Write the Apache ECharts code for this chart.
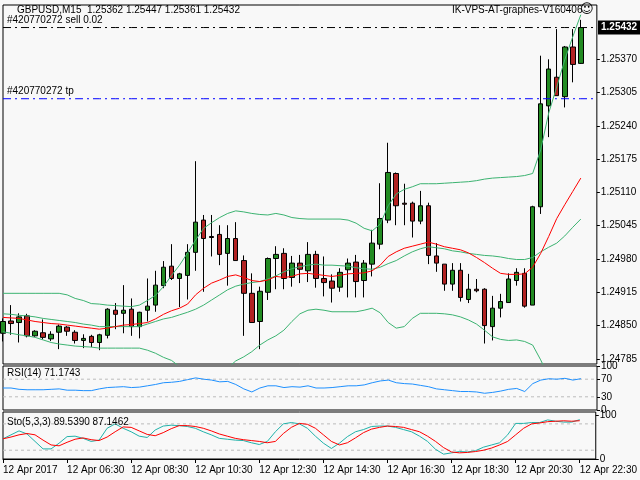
<!DOCTYPE html>
<html><head><meta charset="utf-8">
<script src="https://cdn.jsdelivr.net/npm/echarts@6/dist/echarts.min.js"></script>
<style>html,body{margin:0;padding:0;background:#f8f8f8}#c{width:640px;height:480px}</style>
</head><body><div id="c"></div>
<script>
const openP=[1.24835,1.24859,1.24856,1.24869,1.24830,1.24836,1.24824,1.24837,1.24847,1.24837,1.24821,1.24829,1.24817,1.24831,1.24880,1.24874,1.24882,1.24848,1.24880,1.24890,1.24928,1.24966,1.24942,1.24948,1.24993,1.25056,1.25024,1.25028,1.24991,1.25020,1.24977,1.24913,1.24858,1.24915,1.24981,1.24991,1.24944,1.24972,1.24957,1.24989,1.24942,1.24937,1.24925,1.24959,1.24974,1.24938,1.24970,1.25009,1.25056,1.25147,1.25089,1.25089,1.25054,1.25084,1.24986,1.24970,1.24931,1.24958,1.24901,1.24921,1.24921,1.24848,1.24884,1.24895,1.24938,1.24952,1.24890,1.25082,1.25279,1.25335,1.25297,1.25394,1.25362];
const closeP=[1.24858,1.24854,1.24867,1.24830,1.24839,1.24827,1.24833,1.24849,1.24839,1.24821,1.24825,1.24817,1.24832,1.24882,1.24872,1.24880,1.24848,1.24876,1.24888,1.24929,1.24964,1.24942,1.24951,1.24993,1.25052,1.25020,1.25022,1.24989,1.25020,1.24977,1.24913,1.24856,1.24917,1.24981,1.24989,1.24942,1.24972,1.24960,1.24989,1.24942,1.24934,1.24923,1.24954,1.24972,1.24936,1.24972,1.25011,1.25059,1.25149,1.25084,1.25087,1.25054,1.25084,1.24987,1.24972,1.24931,1.24958,1.24905,1.24921,1.24918,1.24850,1.24884,1.24897,1.24941,1.24954,1.24888,1.25082,1.25283,1.25351,1.25299,1.25394,1.25360,1.25432];
const highP=[1.24864,1.24890,1.24874,1.24873,1.24841,1.24862,1.24839,1.24852,1.24849,1.24841,1.24833,1.24832,1.24834,1.24884,1.24894,1.24929,1.24903,1.24877,1.24942,1.24957,1.24976,1.25009,1.24953,1.25009,1.25171,1.25066,1.25066,1.25046,1.25046,1.25052,1.24987,1.24952,1.24926,1.24983,1.25005,1.25001,1.24986,1.24988,1.25013,1.24996,1.24985,1.24950,1.24962,1.24981,1.24988,1.24978,1.25037,1.25128,1.25207,1.25149,1.25127,1.25092,1.25113,1.25090,1.25011,1.24970,1.24972,1.24972,1.24951,1.24941,1.24923,1.24908,1.24912,1.24952,1.24962,1.24962,1.25084,1.25377,1.25370,1.25429,1.25396,1.25429,1.25447];
const lowP=[1.24819,1.24832,1.24817,1.24827,1.24828,1.24823,1.24820,1.24804,1.24830,1.24815,1.24806,1.24808,1.24802,1.24825,1.24843,1.24835,1.24830,1.24825,1.24858,1.24877,1.24923,1.24939,1.24886,1.24901,1.24957,1.24916,1.24985,1.24968,1.24928,1.24977,1.24830,1.24856,1.24804,1.24900,1.24921,1.24921,1.24926,1.24933,1.24935,1.24924,1.24907,1.24895,1.24916,1.24905,1.24905,1.24905,1.24946,1.24999,1.25050,1.25046,1.25046,1.25022,1.25048,1.24970,1.24955,1.24918,1.24918,1.24897,1.24894,1.24915,1.24815,1.24821,1.24866,1.24895,1.24928,1.24885,1.24890,1.25068,1.25218,1.25299,1.25276,1.25325,1.25361];
const bbUpper=[1.24913,1.24913,1.24913,1.24913,1.24913,1.24913,1.24913,1.24913,1.24910,1.24903,1.24899,1.24893,1.24892,1.24890,1.24889,1.24888,1.24887,1.24890,1.24899,1.24909,1.24926,1.24948,1.24968,1.24992,1.25017,1.25040,1.25051,1.25061,1.25069,1.25074,1.25072,1.25069,1.25067,1.25066,1.25069,1.25066,1.25061,1.25059,1.25058,1.25058,1.25058,1.25058,1.25058,1.25056,1.25050,1.25040,1.25035,1.25048,1.25084,1.25107,1.25116,1.25121,1.25127,1.25127,1.25127,1.25128,1.25129,1.25130,1.25131,1.25133,1.25136,1.25138,1.25139,1.25140,1.25141,1.25143,1.25147,1.25193,1.25265,1.25316,1.25369,1.25414,1.25457];
const bbMiddle=[1.24873,1.24872,1.24870,1.24869,1.24867,1.24864,1.24862,1.24860,1.24858,1.24856,1.24853,1.24851,1.24848,1.24848,1.24848,1.24848,1.24848,1.24848,1.24853,1.24858,1.24863,1.24866,1.24871,1.24876,1.24882,1.24890,1.24900,1.24910,1.24920,1.24927,1.24931,1.24934,1.24936,1.24941,1.24947,1.24955,1.24961,1.24965,1.24968,1.24970,1.24968,1.24968,1.24967,1.24966,1.24963,1.24961,1.24960,1.24964,1.24971,1.24977,1.24986,1.24994,1.25000,1.25004,1.25002,1.25000,1.24996,1.24994,1.24991,1.24989,1.24987,1.24986,1.24984,1.24981,1.24979,1.24979,1.24983,1.24994,1.25003,1.25011,1.25025,1.25042,1.25058];
const bbLower=[1.24838,1.24835,1.24832,1.24830,1.24827,1.24822,1.24817,1.24814,1.24812,1.24810,1.24809,1.24808,1.24806,1.24806,1.24806,1.24806,1.24806,1.24806,1.24802,1.24796,1.24788,1.24782,1.24770,1.24757,1.24737,1.24731,1.24737,1.24750,1.24767,1.24781,1.24789,1.24799,1.24812,1.24822,1.24830,1.24841,1.24858,1.24873,1.24880,1.24882,1.24880,1.24877,1.24877,1.24877,1.24877,1.24880,1.24884,1.24875,1.24856,1.24845,1.24848,1.24864,1.24874,1.24874,1.24874,1.24873,1.24871,1.24867,1.24861,1.24853,1.24841,1.24828,1.24823,1.24821,1.24822,1.24819,1.24812,1.24783,1.24750,1.24718,1.24685,1.24653,1.24627];
const maRed=[1.24866,1.24865,1.24864,1.24861,1.24858,1.24856,1.24854,1.24853,1.24851,1.24849,1.24847,1.24845,1.24843,1.24845,1.24848,1.24851,1.24852,1.24854,1.24856,1.24863,1.24872,1.24879,1.24884,1.24892,1.24910,1.24923,1.24933,1.24939,1.24946,1.24949,1.24944,1.24938,1.24936,1.24939,1.24946,1.24944,1.24946,1.24951,1.24952,1.24950,1.24948,1.24946,1.24948,1.24951,1.24952,1.24953,1.24957,1.24968,1.24985,1.24994,1.25001,1.25005,1.25009,1.25013,1.25009,1.25004,1.25001,1.24998,1.24992,1.24983,1.24973,1.24962,1.24952,1.24950,1.24950,1.24951,1.24964,1.24991,1.25024,1.25059,1.25086,1.25112,1.25138];
const rsi=[50,50,47,46,46,46,47,48,45,45,44,44,48,51,52,53,51,52,55,58,62,63,65,69,73,70,68,64,65,58,48,41,50,55,55,51,53,52,55,50,50,51,53,55,55,57,62,66,68,62,60,59,56,53,48,46,44,42,42,41,38,40,43,47,49,42,60,68,71,70,72,68,71.17];
const stoK=[46,55,64,57,40,23,23,36,51,52,47,40,43,70,80,70,62,52,49,66,75,77,76,74,70,62,55,47,45,43,42,37,33,40,62,80,83,80,70,52,36,24,36,51,62,67,74,75,75,72,67,62,52,40,22,11,14,17,16,19,27,32,37,55,81,81,83,83,89,86,84,84,89.54];
const stoD=[46,50,55,58,55,43,32,30,38,45,48,44,42,50,62,73,72,64,56,53,60,69,76,76,74,70,64,57,52,47,44,42,40,37,40,58,72,81,79,70,55,40,32,37,48,60,68,72,75,74,72,67,62,52,40,26,16,14,15,17,20,25,32,40,55,70,80,82,85,86,87,86,87.15];
const priceTicks=[1.24785,1.24850,1.24915,1.24980,1.25045,1.25110,1.25175,1.25240,1.25305,1.25370];
const sellPrice=1.25432, tpPrice=1.25293;
const times=[];
for(let m=4*60+30;m<=22*60+30;m+=15){const h=Math.floor(m/60),mm=m%60;times.push('12 Apr '+String(h).padStart(2,'0')+':'+String(mm).padStart(2,'0'));}
times[0]='12 Apr 2017';
const cats=times.concat(['','']);
const F='Liberation Sans';
const chart=echarts.init(document.getElementById('c'));
const xa=(g,show)=>({type:'category',gridIndex:g,data:cats,boundaryGap:false,
  axisLine:{show:show,lineStyle:{color:'#000'}},axisTick:{show:show,interval:7,length:4,lineStyle:{color:'#000'}},
  axisLabel:{show:show,interval:7,align:'left',fontFamily:F,fontSize:10,color:'#000',margin:6},splitLine:{show:false}});
const ya=(g,min,max,vals,labels)=>({type:'value',gridIndex:g,position:'right',min:min,max:max,
  axisLine:{show:false},splitLine:{show:false},
  axisTick:{show:true,customValues:vals,length:3,lineStyle:{color:'#000'}},
  axisLabel:{show:true,customValues:vals,showMinLabel:true,showMaxLabel:true,hideOverlap:false,fontFamily:F,fontSize:10,color:'#000',margin:4,formatter:v=>labels? String(Math.round(v)) : v.toFixed(5)}});
const line=(d,c,xi,yi,extra)=>Object.assign({type:'line',data:d,xAxisIndex:xi,yAxisIndex:yi,symbol:'none',lineStyle:{color:c,width:1},silent:true,animation:false},extra||{});
const level=(v,c,dashT)=>line(cats.map(()=>v),c,0,0,{lineStyle:{color:c,width:1,type:dashT}});
const lvl=(v,xi,yi)=>line(cats.map(()=>v),'#bbb',xi,yi,{lineStyle:{color:'#bbb',width:1,type:[3,3]}});
chart.setOption({
  animation:false,backgroundColor:'#f8f8f8',
  grid:[{left:3,right:43,top:5,height:359,show:true,borderColor:'#000',borderWidth:1},
        {left:3,right:43,top:366,height:44,show:true,borderColor:'#000',borderWidth:1},
        {left:3,right:43,top:412,height:47,show:true,borderColor:'#000',borderWidth:1}],
  xAxis:[xa(0,false),xa(1,false),xa(2,true)],
  yAxis:[ya(0,1.24775,1.25476,priceTicks,false),ya(1,0,100,[0,30,70,100],true),ya(2,0,107,[0,20,80,100],true)],
  series:[
    level(sellPrice,'#000',[8,4,2,4]),
    level(tpPrice,'#0000ff',[8,4,2,4]),
    line(bbUpper,'#3cb371',0,0),
    line(bbMiddle,'#3cb371',0,0),
    line(bbLower,'#3cb371',0,0),
    line(maRed,'#ff0000',0,0),
    {type:'candlestick',xAxisIndex:0,yAxisIndex:0,barWidth:5,silent:true,animation:false,
     data:openP.map((o,i)=>[o,closeP[i],lowP[i],highP[i]]),
     itemStyle:{color:'#228b22',color0:'#b22222',borderColor:'#000',borderColor0:'#000',borderWidth:1}},
    lvl(30,1,1),lvl(70,1,1),
    line(rsi,'#1e90ff',1,1),
    lvl(20,2,2),lvl(80,2,2),
    line(stoK,'#20b2aa',2,2),
    line(stoD,'#ff0000',2,2)
  ]
});
const ySell=chart.convertToPixel({yAxisIndex:0},sellPrice);
const yTp=chart.convertToPixel({yAxisIndex:0},tpPrice);
const T=(x,y,t,extra)=>({type:'text',left:x,top:y,z:100,style:Object.assign({text:t,font:'10px '+F,fill:'#000'},extra||{})});
chart.setOption({graphic:[
  T(17,5,'GBPUSD,M15  1.25362 1.25447 1.25361 1.25432'),
  T(452,5,'IK-VPS-AT-graphes-V160406'),
  T(580,3,'☺',{font:'13px DejaVu Sans'}),
  T(7,368,'RSI(14) 71.1743'),
  T(7,417,'Sto(5,3,3) 89.5390 87.1462'),
  T(7,ySell-12,'#420770272 sell 0.02'),
  T(7,yTp-12,'#420770272 tp'),
  {type:'rect',left:598,top:ySell-7,z:100,shape:{width:42,height:14},style:{fill:'#000'}},
  T(601,ySell-5,sellPrice.toFixed(5),{fill:'#fff',font:'bold 10px '+F})
]});
</script></body></html>
